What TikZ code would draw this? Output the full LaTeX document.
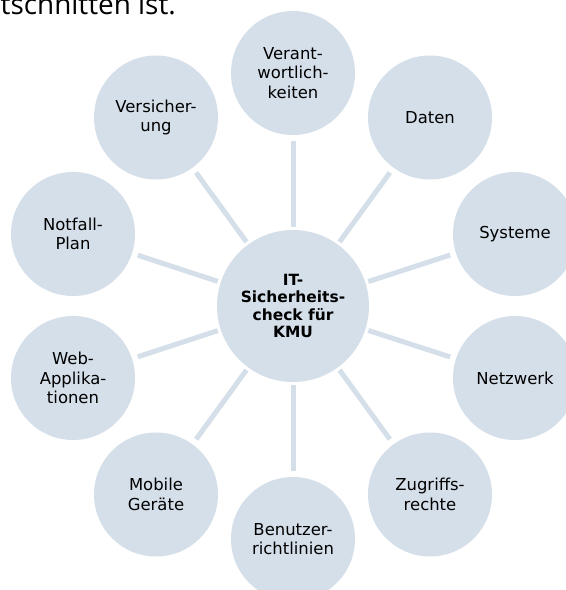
\documentclass[tikz,border=0pt]{standalone}
\usepackage{fontspec}
\setmainfont{DejaVu Sans}
\newfontfamily\topfont{Open Sans}
\definecolor{circfill}{RGB}{213,223,233}
\definecolor{linkcol}{RGB}{213,223,233}
\tikzset{
  outer/.style={circle, fill=circfill, minimum size=124bp, inner sep=0pt, align=center,
    font=\fontsize{16.5}{19.5}\selectfont, text=black},
  hub/.style={circle, fill=circfill, minimum size=152bp, inner sep=0pt, align=center,
    font=\bfseries\fontsize{15.5}{17.5}\selectfont, text=black},
  link/.style={draw=linkcol, line width=5bp, shorten <=3bp, shorten >=6bp}
}
\begin{document}
\begin{tikzpicture}[x=1bp,y=-1bp]
\useasboundingbox (0,0) rectangle (566,590);
\clip (0,0) rectangle (566,590);
\fill[white] (0,0) rectangle (566,590);
\node[anchor=base east, font=\topfont\fontsize{28}{30}\selectfont, inner sep=0pt] (top) at (176,15) {tschnitten ist.};
\node[hub] (c) at (293,306) {IT-\\Sicherheits-\\check für\\KMU};
\node[outer] (n1) at (293,73) {Verant-\\wortlich-\\keiten};
\node[outer] (n2) at (430,117.5) {Daten};
\node[outer] (n3) at (515,234) {Systeme};
\node[outer] (n4) at (515,378) {Netzwerk};
\node[outer] (n5) at (430,494.5) {Zugriffs-\\rechte};
\node[outer] (n6) at (293,539) {Benutzer-\\richtlinien};
\node[outer] (n7) at (156,494.5) {Mobile\\Geräte};
\node[outer] (n8) at (73,378) {Web-\\Applika-\\tionen};
\node[outer] (n9) at (73,234) {Notfall-\\Plan};
\node[outer] (n10) at (156,117.5) {Versicher-\\ung};
\foreach \i in {1,...,10} {\draw[link] (c) -- (n\i);}
\end{tikzpicture}
\end{document}
